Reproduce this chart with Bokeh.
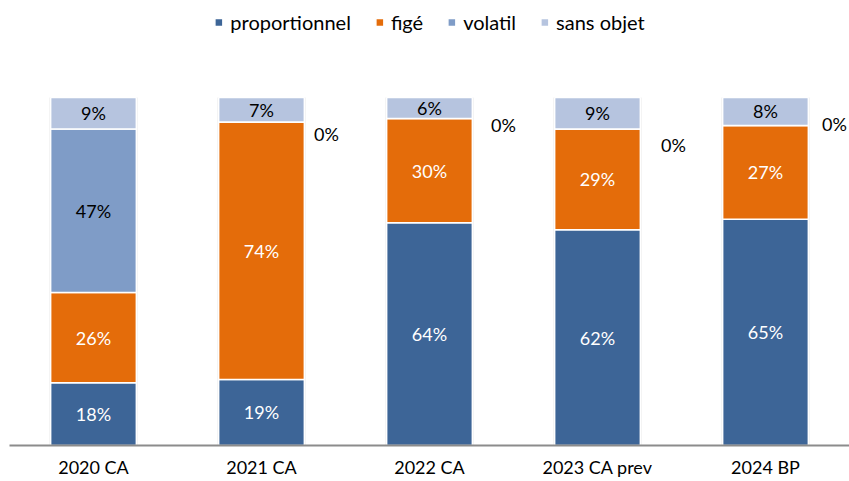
from bokeh.plotting import figure
from bokeh.models import ColumnDataSource, Legend, LegendItem, Range1d, FactorRange
from bokeh.embed import file_html
from bokeh.resources import INLINE
from bokeh.core.properties import value

categories = ["2020 CA", "2021 CA", "2022 CA", "2023 CA prev", "2024 BP"]
proportionnel = [18, 19, 64, 62, 65]
fige = [26, 74, 30, 29, 27]
volatil = [47, 0, 0, 0, 0]
sans_objet = [9, 7, 6, 9, 8]

series = ["proportionnel", "figé", "volatil", "sans objet"]
colors = ["#3D6597", "#E46C0A", "#7F9CC7", "#B6C4DF"]
label_colors = ["white", "white", "black", "black"]
FONT = "Lato"

p = figure(x_range=FactorRange(*categories, range_padding=0), y_range=Range1d(0, 127.9),
           width=849, height=481, output_backend="svg", toolbar_location=None,
           min_border_left=9, min_border_right=0, min_border_top=0, min_border_bottom=36)

data = dict(cat=categories, proportionnel=proportionnel, fige=fige, volatil=volatil, sans_objet=sans_objet)
src = ColumnDataSource(data)
keys = ["proportionnel", "fige", "volatil", "sans_objet"]
renderers = p.vbar_stack(keys, x="cat", width=0.51, color=colors, source=src,
                         line_color="white", line_width=1.5)

# shadow-ish outline
tot = [a + b + c + d for a, b, c, d in zip(proportionnel, fige, volatil, sans_objet)]
p.vbar(x=categories, top=tot, bottom=0, width=0.515, fill_alpha=0, line_color="#D0D0D0",
       line_width=1, level="underlay")

# labels
vals = [proportionnel, fige, volatil, sans_objet]
for si, (vs, lc) in enumerate(zip(vals, label_colors)):
    xs, ys, ts = [], [], []
    for ci, cat in enumerate(categories):
        base = sum(vals[k][ci] for k in range(si))
        v = vs[ci]
        if v == 0:
            continue
        xs.append(cat)
        ys.append(base + v / 2)
        ts.append(f"{v}%")
    p.text(x=xs, y=ys, text=ts, text_align="center", text_baseline="middle",
           text_font=value(FONT), text_font_size="18px", text_color=lc)

# zero-value labels for volatil (to the right of bars)
zx, zy, zt = [], [], []
for ci, cat in enumerate(categories):
    if volatil[ci] == 0:
        zx.append((cat, 0.36))
        zy.append(proportionnel[ci] + fige[ci])
        zt.append("0%")
zero_dy = [12, 7, 16, -1]   # pixel nudges (down)
zero_dx = [-8, 1, 3, -4]    # pixel nudges (right)
zsrc = ColumnDataSource(dict(x=zx, y=zy, t=zt, dy=zero_dy, dx=zero_dx))
p.text(x="x", y="y", text="t", x_offset="dx", y_offset="dy", source=zsrc, text_align="left",
       text_baseline="middle", text_font=value(FONT), text_font_size="18px", text_color="black")

p.yaxis.visible = False
p.grid.visible = False
p.outline_line_color = None
p.xaxis.axis_line_color = "#8C8C8C"
p.xaxis.axis_line_width = 2
p.xaxis.major_tick_line_color = None
p.xaxis.major_tick_out = 0
p.xaxis.major_tick_in = 0
p.xaxis.minor_tick_line_color = None
p.xaxis.major_label_standoff = 10
p.xaxis.major_label_text_font = FONT
p.xaxis.major_label_text_font_size = "18px"
p.xaxis.major_label_text_color = "black"

legend = Legend(items=[LegendItem(label=s, renderers=[r]) for s, r in zip(series, renderers)],
                orientation="horizontal", location="top_center",
                label_text_font=FONT, label_text_font_size="20px", label_text_color="black",
                glyph_width=10, glyph_height=10, spacing=23, label_standoff=7,
                label_height=20, border_line_color=None, background_fill_alpha=0,
                padding=3, margin=10)
p.add_layout(legend, "center")

open("out.html", "w").write(file_html(p, INLINE))
